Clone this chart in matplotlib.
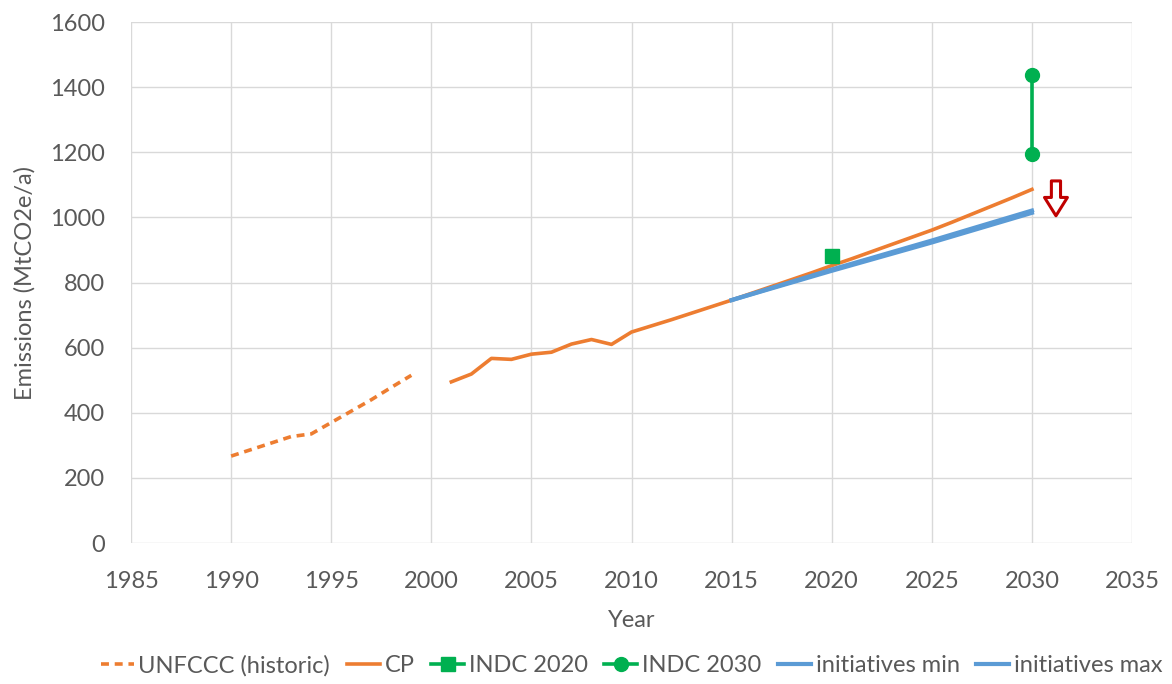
import matplotlib.pyplot as plt

plt.rcParams['font.family'] = ['Lato', 'DejaVu Sans']

# historic UNFCCC inventory
hist_years = [1990, 1991, 1992, 1993, 1994, 1995, 1996, 1997, 1998, 1999]
hist_vals = [267, 287, 307, 327, 335, 370, 405, 440, 478, 515]

# current policy projection
cp_years = list(range(2001, 2031))
cp_vals = [495, 519, 567, 564, 580, 586, 611, 625, 610, 648,
           667, 686, 706, 726, 746, 767, 788, 809, 830, 852,
           873, 895, 917, 939, 961, 985, 1010, 1035, 1060, 1086]

indc2020_year = [2020]
indc2020_val = [880]
indc2030_years = [2030, 2030]
indc2030_vals = [1195, 1437]

init_years = [2015, 2020, 2025, 2030]
init_min = [746, 836, 923, 1014]
init_max = [746, 840, 929, 1021]

orange = '#ED7D31'
green = '#00B050'
blue = '#5B9BD5'
txt = '#595959'

fig = plt.figure(figsize=(11.72, 6.84), dpi=100)
ax = fig.add_axes([0.1118, 0.2061, 0.8541, 0.7617])

ax.plot(hist_years, hist_vals, color=orange, lw=2.6, ls=(0, (2.2, 1.6)),
        label='UNFCCC (historic)')
ax.plot(cp_years, cp_vals, color=orange, lw=2.6, label='CP')
ax.plot(indc2020_year, indc2020_val, color=green, marker='s', ms=10, ls='-',
        lw=2.6, label='INDC 2020')
ax.plot(indc2030_years, indc2030_vals, color=green, marker='o', ms=10, lw=2.6,
        label='INDC 2030')
ax.plot(init_years, init_min, color=blue, lw=3.0, label='initiatives min')
ax.plot(init_years, init_max, color=blue, lw=3.0, label='initiatives max')

# hollow downward arrow
ax.annotate('', xy=(2031.2, 1005), xytext=(2031.2, 1112),
            arrowprops=dict(arrowstyle='simple,head_width=0.75,head_length=0.6,tail_width=0.3',
                            mutation_scale=22, facecolor='white',
                            edgecolor='#C00000', lw=2.2, shrinkA=0, shrinkB=0))

ax.set_xlim(1985, 2035)
ax.set_ylim(0, 1600)
ax.set_xticks(range(1985, 2036, 5))
ax.set_yticks(range(0, 1601, 200))
ax.grid(True, color='#D9D9D9', lw=1)
ax.set_axisbelow(True)
for s in ax.spines.values():
    s.set_visible(False)
ax.tick_params(length=0, labelsize=17, labelcolor=txt)
ax.tick_params(axis='y', pad=19)
ax.tick_params(axis='x', pad=20)
ax.set_xlabel('Year', fontsize=17, color=txt, labelpad=13)
ax.set_ylabel('Emissions (MtCO2e/a)', fontsize=17, color=txt, labelpad=10)

ax.legend(loc='center', bbox_to_anchor=(0.5, -0.235), ncol=6,
          frameon=False, fontsize=17, labelcolor=txt, handlelength=1.4,
          handletextpad=0.2, columnspacing=0.7, borderaxespad=0)

fig.savefig('out.png', dpi=100)
